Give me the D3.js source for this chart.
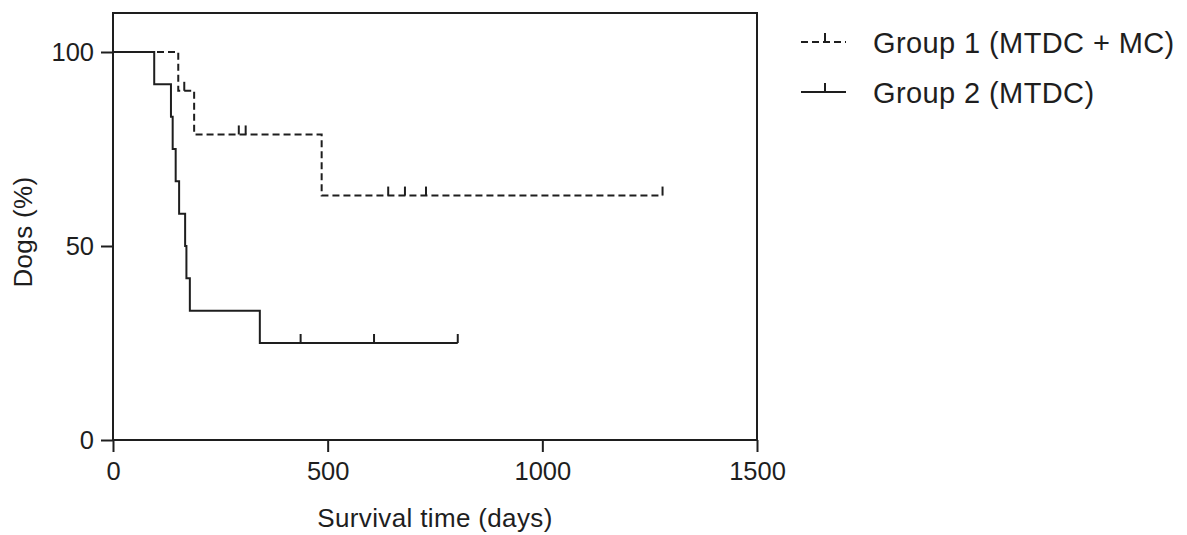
<!DOCTYPE html>
<html>
<head>
<meta charset="utf-8">
<script src="https://cdn.jsdelivr.net/npm/d3@7"></script>
<style>
  body { margin: 0; background: #fff; }
  svg { display: block; font-family: "Liberation Sans", Arial, sans-serif; }
</style>
</head>
<body>
<div id="chart"></div>
<script>
// Kaplan-Meier steps (days, % surviving)
const group1Times = [0, 152, 189, 486, 1280];
const group1Surv = [100, 90, 78.75, 63, 63];
const group1Censored = [166, 293, 309, 641, 680, 729, 1280];

const group2Times = [0, 96, 135, 139, 146, 154, 168, 171, 179, 342, 803];
const group2Surv = [100, 91.67, 83.33, 75, 66.67, 58.33, 50, 41.67, 33.33, 25, 25];
const group2Censored = [437, 608, 803];

const xTicks = [0, 500, 1000, 1500];
const yTicks = [0, 50, 100];
const legendLabels = ['Group 1 (MTDC + MC)', 'Group 2 (MTDC)'];

const width = 1187, height = 535;
const ink = '#1e1e1e';

const svg = d3.select('#chart').append('svg')
    .attr('width', width)
    .attr('height', height);

const x = d3.scaleLinear().domain([0, 1500]).range([113, 757]);
// top of frame sits above 100 %
const y = d3.scaleLinear().domain([0, 100]).range([440, 52]);
const frameTop = 13;

// axes
const xAxis = svg.append('g')
    .attr('transform', `translate(0,${y(0)})`)
    .call(d3.axisBottom(x).tickValues(xTicks).tickSize(12).tickPadding(10).tickFormat(d3.format('d')));
const yAxis = svg.append('g')
    .attr('transform', `translate(${x(0)},0)`)
    .call(d3.axisLeft(y).tickValues(yTicks).tickSize(12).tickPadding(7).tickFormat(d3.format('d')));

[xAxis, yAxis].forEach(g => {
    g.select('.domain').remove();
    g.selectAll('.tick line').attr('stroke', ink).attr('stroke-width', 2);
    g.selectAll('.tick text')
        .attr('fill', ink)
        .style('font-size', '25.5px')
        .style('font-family', '"Liberation Sans", Arial, sans-serif');
});

// frame
svg.append('rect')
    .attr('x', x(0))
    .attr('y', frameTop)
    .attr('width', x(1500) - x(0))
    .attr('height', y(0) - frameTop)
    .attr('fill', 'none')
    .attr('stroke', ink)
    .attr('stroke-width', 2);

// axis titles
svg.append('text')
    .attr('x', (x(0) + x(1500)) / 2)
    .attr('y', 527)
    .attr('text-anchor', 'middle')
    .attr('fill', ink)
    .style('font-size', '26px')
    .style('letter-spacing', '0.35px')
    .text('Survival time (days)');

svg.append('text')
    .attr('transform', `translate(32,${y(50) - 14}) rotate(-90)`)
    .attr('text-anchor', 'middle')
    .attr('fill', ink)
    .style('font-size', '26px')
    .style('letter-spacing', '0.35px')
    .text('Dogs (%)');

// survival curves
const line = d3.line()
    .x(d => x(d[0]))
    .y(d => y(d[1]))
    .curve(d3.curveStepAfter);

function stepValue(times, surv, t) {
    let v = surv[0];
    times.forEach((tt, i) => { if (tt <= t) v = surv[i]; });
    return v;
}

const groups = [
    { times: group1Times, surv: group1Surv, cens: group1Censored, dash: '7,4' },
    { times: group2Times, surv: group2Surv, cens: group2Censored, dash: null }
];

groups.forEach(g => {
    const pts = g.times.map((t, i) => [t, g.surv[i]]);
    svg.append('path')
        .datum(pts)
        .attr('d', line)
        .attr('fill', 'none')
        .attr('stroke', ink)
        .attr('stroke-width', 2)
        .attr('stroke-dasharray', g.dash);

    svg.append('g').selectAll('line')
        .data(g.cens)
        .join('line')
        .attr('x1', d => x(d))
        .attr('x2', d => x(d))
        .attr('y1', d => y(stepValue(g.times, g.surv, d)))
        .attr('y2', d => y(stepValue(g.times, g.surv, d)) - 9)
        .attr('stroke', ink)
        .attr('stroke-width', 2);
});

// legend
const legend = svg.append('g').attr('transform', 'translate(801,42)');
legendLabels.forEach((label, i) => {
    const row = legend.append('g').attr('transform', `translate(0,${i * 50})`);
    row.append('line')
        .attr('x1', 0).attr('x2', 45)
        .attr('stroke', ink)
        .attr('stroke-width', 2)
        .attr('stroke-dasharray', groups[i].dash);
    row.append('line')
        .attr('x1', 24).attr('x2', 24)
        .attr('y1', 0).attr('y2', -9)
        .attr('stroke', ink)
        .attr('stroke-width', 2);
    row.append('text')
        .attr('x', 72)
        .attr('y', 11)
        .attr('fill', ink)
        .style('font-size', '29px')
        .style('letter-spacing', '0.4px')
        .text(label);
});
</script>
</body>
</html>
